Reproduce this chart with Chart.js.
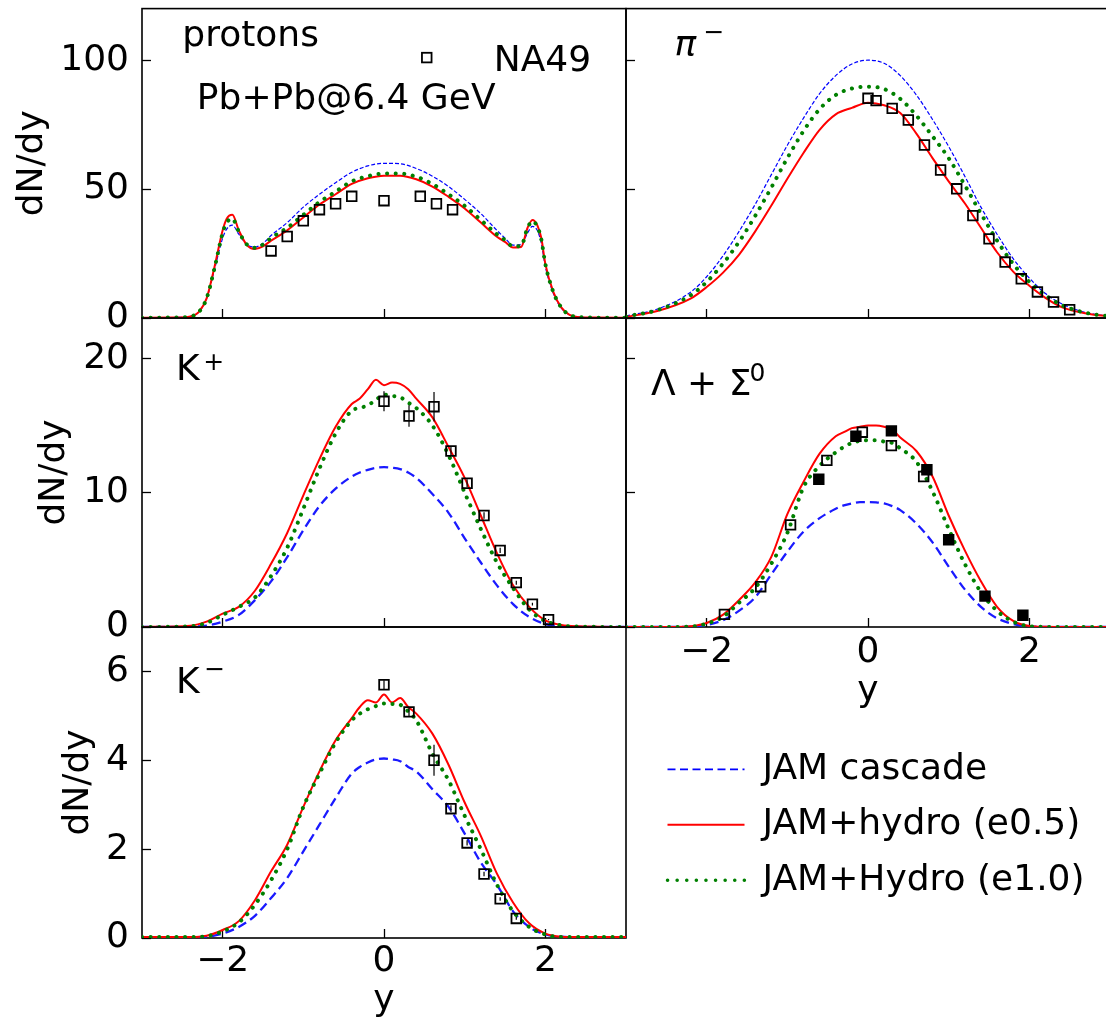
<!DOCTYPE html>
<html>
<head>
<meta charset="utf-8">
<title>dN/dy Pb+Pb 6.4 GeV</title>
<script src="https://cdn.jsdelivr.net/npm/chart.js"></script>
<style>
  html, body { margin: 0; padding: 0; background: #fff; overflow: hidden; }
  #wrap { position: relative; width: 1106px; height: 1025px; overflow: hidden; }
  #wrap canvas { position: absolute; left: 0; top: 0; }
</style>
</head>
<body>
<div id="wrap">
  <canvas id="cProton" width="1120" height="1040"></canvas>
  <canvas id="cPion" width="1120" height="1040"></canvas>
  <canvas id="cKplus" width="1120" height="1040"></canvas>
  <canvas id="cLambda" width="1120" height="1040"></canvas>
  <canvas id="cKminus" width="1120" height="1040"></canvas>
  <canvas id="cLegend" width="1120" height="1040"></canvas>
</div>
<script>
// ---- data ----
const xTicks = [-2, 0, 2];
const protonTicks = [0, 50, 100];
const kplusTicks = [0, 10, 20];
const kminusTicks = [0, 2, 4, 6];
const legendNames = ["JAM cascade", "JAM+hydro (e0.5)", "JAM+Hydro (e1.0)"];

// protons
const xP = [-3.0, -2.6, -2.4, -2.3, -2.2, -2.1, -2.0, -1.95, -1.88, -1.8, -1.7, -1.6, -1.5, -1.4, -1.2, -1.0, -0.8, -0.6, -0.4, -0.2, 0.0,
            0.2, 0.4, 0.6, 0.8, 1.0, 1.2, 1.4, 1.5, 1.6, 1.7, 1.78, 1.84, 1.9, 1.95, 2.0, 2.1, 2.2, 2.3, 2.4, 2.6, 3.0];
const protonRed = [0.1, 0.2, 0.6, 2.2, 7.5, 20, 34, 38.5, 40, 34, 28.3, 26.8, 27.8, 30, 34, 39, 44, 48, 52, 54.2, 55.2,
                   55.2, 53.8, 51, 47, 42.5, 37, 31.5, 29.5, 27.3, 27.5, 35, 38, 36, 31, 21, 10, 4, 1.2, 0.4, 0.15, 0.1];
const protonBlue = [0.1, 0.2, 0.6, 2.2, 7.5, 19, 31, 34.5, 36, 32.5, 28.5, 27.5, 29, 32, 37, 43, 48, 52.5, 56.5, 59, 60,
                    59.8, 58, 55, 51, 46, 40.5, 34, 31, 28.3, 28.5, 33, 35.5, 34, 29, 20, 9.5, 3.8, 1.2, 0.4, 0.15, 0.1];
const protonGreen = [0.1, 0.2, 0.6, 2.2, 7.5, 19.5, 33, 37, 38.5, 33.5, 28.5, 27.2, 28.5, 31, 35, 40, 45, 49, 53, 55, 56,
                     56, 54.8, 52, 48, 43.5, 38, 32.5, 30.2, 27.8, 28, 35, 37.5, 35.5, 30.5, 21, 10, 4, 1.2, 0.4, 0.15, 0.1];
const protonX = [-1.4, -1.2, -1.0, -0.8, -0.6, -0.4, 0.0, 0.45, 0.65, 0.85];
const protonY = [26.0, 31.6, 37.7, 42.0, 44.3, 47.2, 45.5, 47.2, 44.3, 42.0];

// pi-
const xPi = [-3.0, -2.6, -2.2, -2.0, -1.8, -1.6, -1.4, -1.2, -1.0, -0.8, -0.6, -0.4, -0.2, 0.0,
             0.2, 0.4, 0.6, 0.8, 1.0, 1.2, 1.4, 1.6, 1.8, 2.0, 2.2, 2.4, 2.6, 2.8, 3.0];
const pionBlue = [0.8, 3.6, 10, 16, 24, 33.5, 44, 55.5, 67, 77.5, 87, 94, 98.5, 100,
                  98.8, 94, 86.5, 77, 66.5, 55, 43, 32.5, 23, 15.5, 9.5, 5.5, 3.0, 1.5, 0.7];
const pionRed = [0.4, 2.8, 7.5, 12, 17.5, 24.5, 33.5, 43.5, 54, 64, 73, 79, 81.5, 83.5,
                 82.5, 79.5, 71.5, 62, 53, 44.5, 35, 25.5, 18, 12.5, 7.8, 4.2, 2.4, 1.3, 0.7];
const pionGreen = [0.6, 3.2, 8.8, 14, 21, 29.5, 39.5, 50.5, 62, 72.5, 81, 86.5, 89, 89.7,
                   88.8, 85, 78.5, 70.5, 62, 51.5, 40.5, 30, 21, 14, 8.8, 5, 2.8, 1.4, 0.7];
const pionX = [0.0, 0.1, 0.3, 0.5, 0.7, 0.9, 1.1, 1.3, 1.5, 1.7, 1.9, 2.1, 2.3, 2.5];
const pionY = [85.2, 84.3, 81.3, 76.8, 67.1, 57.4, 50.1, 39.7, 30.7, 21.7, 15.2, 10.1, 6.2, 3.2];

// K+, Lambda+Sigma0, K- share this grid
const xK = [-3.0, -2.4, -2.2, -2.0, -1.8, -1.6, -1.4, -1.2, -1.0, -0.8, -0.6, -0.4, -0.3, -0.2, -0.1, 0.0,
            0.1, 0.2, 0.3, 0.4, 0.6, 0.8, 1.0, 1.2, 1.4, 1.6, 1.8, 2.0, 2.2, 2.4, 3.0];
const kplusRed = [0, 0.1, 0.4, 1.0, 1.5, 2.7, 4.7, 7.0, 9.8, 12.5, 14.9, 16.6, 17.0, 17.7, 18.4, 18.0,
                  18.2, 18.1, 17.7, 17.0, 15.6, 13.4, 11.1, 8.3, 5.5, 3.1, 1.5, 0.5, 0.15, 0.05, 0];
const kplusGreen = [0, 0.05, 0.3, 0.9, 1.5, 2.2, 3.8, 5.9, 8.8, 11.8, 14.4, 16.1, 16.3, 16.5, 16.9, 17.3,
                    17.2, 17.1, 16.7, 16.3, 15.0, 12.8, 10.0, 7.3, 4.8, 2.9, 1.3, 0.45, 0.12, 0.03, 0];
const kplusBlue = [0, 0.02, 0.1, 0.4, 0.9, 2.0, 3.4, 5.2, 7.2, 9.0, 10.3, 11.2, 11.5, 11.7, 11.85, 11.9,
                   11.85, 11.75, 11.5, 11.1, 9.9, 8.5, 6.6, 4.8, 3.1, 1.7, 0.75, 0.22, 0.06, 0.02, 0];
const kplusX = [0.0, 0.31, 0.62, 0.83, 1.03, 1.24, 1.44, 1.64, 1.84, 2.04];
const kplusY = [16.8, 15.7, 16.4, 13.1, 10.7, 8.3, 5.7, 3.3, 1.7, 0.55];
const kplusErr = [0.75, 0.8, 1.1, 0.3, 0.3, 0.25, 0.2, 0.15, 0.1, 0.05];

const lambdaRed = [0, 0, 0.05, 0.3, 0.9, 2.0, 3.3, 5.2, 8.4, 10.8, 12.9, 14.2, 14.5, 14.8, 14.9, 15.0,
                   15.0, 14.9, 14.7, 14.1, 13.1, 11.2, 8.3, 5.7, 3.4, 1.5, 0.45, 0.07, 0.01, 0, 0];
const lambdaGreen = [0, 0, 0.03, 0.25, 0.75, 1.8, 2.9, 4.7, 7.0, 10.4, 12.0, 13.0, 13.4, 13.7, 13.85, 13.9,
                     13.9, 13.8, 13.7, 13.3, 12.3, 10.1, 7.3, 4.7, 2.6, 1.2, 0.4, 0.06, 0.01, 0, 0];
const lambdaBlue = [0, 0, 0.02, 0.15, 0.5, 1.2, 2.2, 3.9, 5.6, 7.1, 8.1, 8.8, 9.05, 9.2, 9.3, 9.3,
                    9.28, 9.2, 9.0, 8.7, 7.7, 6.3, 4.5, 2.8, 1.5, 0.65, 0.22, 0.04, 0.01, 0, 0];
const lambdaOpenX = [-1.78, -1.33, -0.96, -0.51, -0.07, 0.29, 0.69];
const lambdaOpenY = [0.94, 3.0, 7.6, 12.4, 14.5, 13.5, 11.2];
const lambdaFullX = [-0.61, -0.15, 0.29, 0.73, 1.00, 1.45, 1.92];
const lambdaFullY = [11.0, 14.2, 14.6, 11.7, 6.5, 2.3, 0.87];

const kminusRed = [0.02, 0.02, 0.05, 0.18, 0.38, 0.85, 1.5, 2.1, 2.95, 3.75, 4.45, 4.95, 5.2, 5.35, 5.3, 5.48,
                   5.3, 5.4, 5.2, 5.05, 4.6, 3.9, 3.05, 2.3, 1.45, 0.8, 0.33, 0.1, 0.03, 0.02, 0.02];
const kminusGreen = [0.02, 0.02, 0.04, 0.15, 0.35, 0.75, 1.3, 2.0, 2.95, 3.7, 4.4, 4.9, 5.05, 5.15, 5.22, 5.28,
                     5.27, 5.25, 5.1, 4.9, 4.15, 3.55, 2.75, 2.0, 1.2, 0.6, 0.25, 0.08, 0.02, 0.02, 0.02];
const kminusBlue = [0.02, 0.02, 0.03, 0.1, 0.25, 0.5, 0.9, 1.35, 1.95, 2.55, 3.15, 3.7, 3.85, 3.95, 4.02, 4.04,
                    4.02, 3.98, 3.85, 3.75, 3.35, 2.95, 2.35, 1.7, 1.2, 0.6, 0.25, 0.08, 0.03, 0.02, 0.02];
const kminusX = [0.0, 0.31, 0.62, 0.83, 1.03, 1.24, 1.44, 1.64];
const kminusY = [5.7, 5.09, 4.0, 2.91, 2.14, 1.44, 0.88, 0.44];
const kminusErr = [0.1, 0.1, 0.35, 0.08, 0.06, 0.05, 0.04, 0.03];

// ---- styles ----
const W = 1120, H = 1040;
Chart.defaults.font.family = "'DejaVu Sans', sans-serif";
Chart.defaults.font.size = 36;
Chart.defaults.color = "#000";

const styles = {
  cascadeThin: { borderColor: "#0000ff", borderWidth: 1.2, borderDash: [4, 2] },
  cascade: { borderColor: "#1a1aff", borderWidth: 2.3, borderDash: [9, 5] },
  hydro05: { borderColor: "#ff0000", borderWidth: 2 },
  hydro10: { borderColor: "#008000", borderWidth: 4, borderDash: [0.1, 8.5], borderCapStyle: "round" },
};
const legendStyles = [
  { borderColor: "#0000ff", borderWidth: 1.8, borderDash: [8, 4.5] },
  { borderColor: "#ff0000", borderWidth: 2 },
  { borderColor: "#008000", borderWidth: 3.5, borderDash: [0.1, 9.5], borderCapStyle: "round" },
];

function curve(xs, ys, style, order) {
  return Object.assign({
    data: xs.map((x, i) => ({ x: x, y: ys[i] })),
    showLine: true, pointRadius: 0, pointHoverRadius: 0,
    cubicInterpolationMode: "monotone", fill: false, order: order,
  }, style);
}

function squares(xs, ys, filled) {
  return {
    data: xs.map((x, i) => ({ x: x, y: ys[i] })),
    showLine: false, pointStyle: "rect", pointRadius: 6.8, pointBorderWidth: 1.8,
    borderColor: "#000", backgroundColor: filled ? "#000" : "rgba(0,0,0,0)",
    pointBorderColor: "#000", pointBackgroundColor: filled ? "#000" : "rgba(0,0,0,0)",
    order: 0,
  };
}

function errorBars(xs, ys, es) {
  const data = [];
  xs.forEach((x, i) => {
    data.push({ x: x, y: ys[i] - es[i] }, { x: x, y: ys[i] + es[i] }, { x: x, y: null });
  });
  return { data, showLine: true, spanGaps: false, pointRadius: 0, borderColor: "#000", borderWidth: 1.2, order: 1 };
}

// frame round each panel
const framePlugin = {
  id: "frame",
  beforeDatasetsDraw(chart) {
    const { ctx, chartArea: a } = chart;
    ctx.save();
    ctx.strokeStyle = "#000";
    ctx.lineWidth = 1.6;
    ctx.strokeRect(a.left, a.top, a.right - a.left, a.bottom - a.top);
    ctx.restore();
  },
};

// labels inside panels, placed in data coordinates
const textPlugin = {
  id: "panelText",
  afterDatasetsDraw(chart, args, opts) {
    const { ctx } = chart;
    const xs = chart.scales.x, ys = chart.scales.y;
    ctx.save();
    ctx.fillStyle = "#000";
    ctx.strokeStyle = "#000";
    (opts.items || []).forEach((t) => {
      const px = xs.getPixelForValue(t.x), py = ys.getPixelForValue(t.y);
      if (t.marker) {
        ctx.lineWidth = 1.8;
        ctx.strokeRect(px - 4.8, py - 4.8, 9.6, 9.6);
        return;
      }
      ctx.font = (t.italic ? "italic " : "") + (t.size || 36) + "px 'DejaVu Sans'";
      ctx.textAlign = t.align || "left";
      ctx.textBaseline = t.baseline || "alphabetic";
      ctx.fillText(t.text, px, py);
    });
    ctx.restore();
  },
};

const fmt = (v) => String(v).replace("-", "\u2212");

function makePanel(id, p) {
  const [left, right, top, bottom] = p.box;
  new Chart(document.getElementById(id), {
    type: "scatter",
    data: { datasets: p.datasets },
    options: {
      responsive: false,
      animation: false,
      devicePixelRatio: 1,
      events: [],
      layout: { padding: { left: 0, top: top, right: W - right, bottom: 0 } },
      plugins: {
        legend: { display: false },
        tooltip: { enabled: false },
        panelText: { items: p.texts },
      },
      scales: {
        x: {
          type: "linear", position: "bottom", min: -3, max: 3,
          afterBuildTicks: (s) => { s.ticks = xTicks.map((v) => ({ value: v })); },
          afterFit: (s) => { s.height = H - bottom; s.paddingLeft = 0; s.paddingRight = 0; },
          grid: { drawOnChartArea: false, drawTicks: true, tickLength: -9, tickWidth: 1.3, tickColor: "#000" },
          border: { display: false },
          ticks: { display: !!p.xLabels, padding: p.xLabelPad || 0, autoSkip: false, maxRotation: 0, callback: fmt },
          title: { display: !!p.xLabels, text: "y", padding: { top: 0, bottom: p.xTitlePad || 0 } },
        },
        y: {
          type: "linear", position: "left", min: 0, max: p.ymax,
          afterBuildTicks: (s) => { s.ticks = p.yTicks.map((v) => ({ value: v })); },
          afterFit: (s) => { s.width = left; s.paddingTop = 0; s.paddingBottom = 0; },
          grid: { drawOnChartArea: false, drawTicks: true, tickLength: -9, tickWidth: 1.3, tickColor: "#000" },
          border: { display: false },
          ticks: { display: !!p.yLabels, padding: 22, callback: fmt },
          title: { display: !!p.yLabels, text: "dN/dy", padding: { top: p.yTitlePad || 0, bottom: 0 } },
        },
      },
    },
    plugins: [framePlugin, textPlugin],
  });
}

makePanel("cProton", {
  box: [142, 626, 8, 318], ymax: 120, yTicks: protonTicks, yLabels: true, yTitlePad: 11.4,
  datasets: [
    squares(protonX, protonY, false),
    curve(xP, protonGreen, styles.hydro10, 2),
    curve(xP, protonRed, styles.hydro05, 3),
    curve(xP, protonBlue, styles.cascadeThin, 4),
  ],
  texts: [
    { text: "protons", x: -2.50, y: 105.5 },
    { text: "Pb+Pb@6.4 GeV", x: -2.32, y: 81.0 },
    { text: "NA49", x: 1.36, y: 95.9 },
    { marker: true, x: 0.53, y: 101.0 },
  ],
});

makePanel("cPion", {
  box: [626, 1110, 8, 318], ymax: 120, yTicks: protonTicks,
  datasets: [
    squares(pionX, pionY, false),
    curve(xPi, pionGreen, styles.hydro10, 2),
    curve(xPi, pionRed, styles.hydro05, 3),
    curve(xPi, pionBlue, styles.cascadeThin, 4),
  ],
  texts: [
    { text: "\u03c0", italic: true, x: -2.40, y: 101.7 },
    { text: "\u2212", size: 25, align: "center", baseline: "middle", x: -1.91, y: 110.4 },
  ],
});

makePanel("cKplus", {
  box: [142, 626, 318, 627], ymax: 23, yTicks: kplusTicks, yLabels: true, yTitlePad: 33.4,
  datasets: [
    squares(kplusX, kplusY, false),
    errorBars(kplusX, kplusY, kplusErr),
    curve(xK, kplusGreen, styles.hydro10, 2),
    curve(xK, kplusRed, styles.hydro05, 3),
    curve(xK, kplusBlue, styles.cascade, 4),
  ],
  texts: [
    { text: "K", x: -2.58, y: 18.35 },
    { text: "+", size: 25, align: "center", baseline: "middle", x: -2.11, y: 19.63 },
  ],
});

makePanel("cLambda", {
  box: [626, 1110, 318, 627], ymax: 23, yTicks: kplusTicks, xLabels: true, xLabelPad: 12.9, xTitlePad: 326.9,
  datasets: [
    squares(lambdaOpenX, lambdaOpenY, false),
    squares(lambdaFullX, lambdaFullY, true),
    curve(xK, lambdaGreen, styles.hydro10, 2),
    curve(xK, lambdaRed, styles.hydro05, 3),
    curve(xK, lambdaBlue, styles.cascade, 4),
  ],
  texts: [
    { text: "\u039b + \u03a3", x: -2.69, y: 17.27 },
    { text: "0", size: 25, align: "center", baseline: "middle", x: -1.37, y: 18.76 },
  ],
});

makePanel("cKminus", {
  box: [142, 626, 627, 938], ymax: 7, yTicks: kminusTicks, yLabels: true, yTitlePad: 56.9,
  xLabels: true, xLabelPad: 11.4, xTitlePad: 17.4,
  datasets: [
    squares(kminusX, kminusY, false),
    errorBars(kminusX, kminusY, kminusErr),
    curve(xK, kminusGreen, styles.hydro10, 2),
    curve(xK, kminusRed, styles.hydro05, 3),
    curve(xK, kminusBlue, styles.cascade, 4),
  ],
  texts: [
    { text: "K", x: -2.58, y: 5.51 },
    { text: "\u2212", size: 25, align: "center", baseline: "middle", x: -2.10, y: 6.03 },
  ],
});

// legend for the three model curves, in the empty lower-right cell
new Chart(document.getElementById("cLegend"), {
  type: "scatter",
  data: {
    datasets: legendNames.map((name, i) => Object.assign({ label: name, data: [], showLine: true, pointRadius: 0 }, legendStyles[i])),
  },
  options: {
    responsive: false,
    animation: false,
    devicePixelRatio: 1,
    events: [],
    layout: { padding: { left: 648, top: 731.8, right: 0, bottom: 0 } },
    scales: { x: { display: false }, y: { display: false } },
    plugins: {
      tooltip: { enabled: false },
      legend: {
        position: "left",
        align: "start",
        maxWidth: 470,
        labels: {
          usePointStyle: true, pointStyleWidth: 77, padding: 19.5, color: "#000", font: { size: 36 },
          generateLabels: (chart) => chart.data.datasets.map((ds, i) => ({
            text: ds.label, datasetIndex: i, hidden: false, pointStyle: "line",
            strokeStyle: ds.borderColor, fillStyle: ds.borderColor, fontColor: "#000",
            lineWidth: ds.borderWidth, lineDash: ds.borderDash || [], lineCap: ds.borderCapStyle || "butt",
          })),
        },
      },
    },
  },
});
</script>
</body>
</html>
